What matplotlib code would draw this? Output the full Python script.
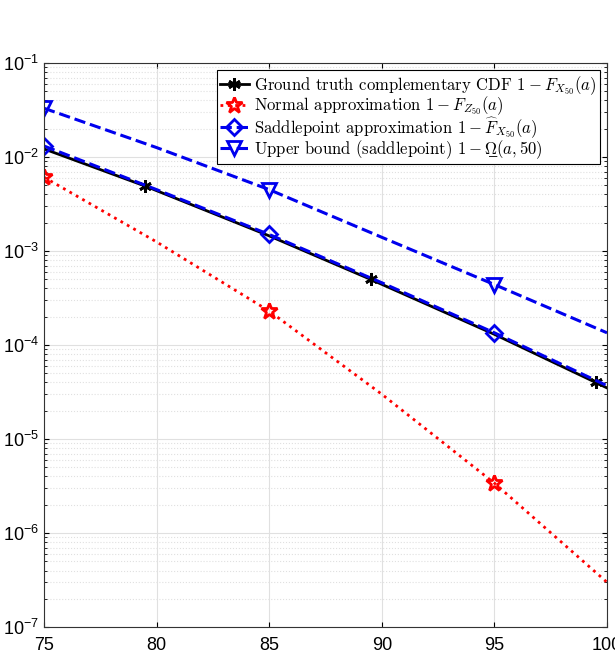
import matplotlib
matplotlib.use("Agg")
import matplotlib.pyplot as plt
from matplotlib.font_manager import FontProperties
from matplotlib.ticker import LogLocator, NullFormatter

plt.rcParams['font.family'] = 'Liberation Sans'
plt.rcParams['mathtext.fontset'] = 'custom'
plt.rcParams['mathtext.rm'] = 'Liberation Sans'
plt.rcParams['mathtext.it'] = 'Liberation Sans:italic'
plt.rcParams['mathtext.bf'] = 'Liberation Sans:bold'

# ground truth (markers at 79.5, 89.5, 99.5)
x_true = [75, 79.5, 85, 89.5, 95, 99.5, 100]
y_true = [1.22e-2, 4.9e-3, 1.45e-3, 5.0e-4, 1.3e-4, 4.0e-5, 3.5e-5]

x_grid = [75, 80, 85, 90, 95, 100]
y_normal = [6.1e-3, 1.25e-3, 2.3e-4, 3.0e-5, 3.4e-6, 3.0e-7]
y_saddle = [1.31e-2, 4.5e-3, 1.5e-3, 4.6e-4, 1.35e-4, 3.7e-5]
y_upper = [3.3e-2, 1.26e-2, 4.5e-3, 1.4e-3, 4.4e-4, 1.35e-4]

labels = [
    r'Ground truth complementary CDF $1-F_{X_{50}}(a)$',
    r'Normal approximation $1-F_{Z_{50}}(a)$',
    r'Saddlepoint approximation $1-\widehat{F}_{X_{50}}(a)$',
    'Upper bound (saddlepoint) $1-\\Omega\u0332(a,50)$',
]

fig = plt.figure(figsize=(6.15, 6.56), dpi=100)
ax = fig.add_axes([0.0715, 0.044, 0.9155, 0.86])

ax.plot(x_true, y_true, '-', color='black', lw=2, marker=(6, 2, 0), ms=9,
        mew=2, markevery=[1, 3, 5], label=labels[0])
ax.plot(x_grid, y_normal, ':', color='red', lw=2, marker='*', ms=12,
        mfc='none', mew=2, markevery=[0, 2, 4], label=labels[1])
ax.plot(x_grid, y_saddle, '--', color='#0000ee', lw=2.2, marker='D', ms=8,
        mfc='none', mew=2, markevery=[0, 2, 4], label=labels[2])
ax.plot(x_grid, y_upper, '--', color='#0000ee', lw=2.2, marker='v', ms=10,
        mfc='none', mew=2, markevery=[0, 2, 4], label=labels[3])

ax.set_yscale('log')
ax.set_xlim(75, 100)
ax.set_ylim(1e-7, 1e-1)
ax.set_xticks([75, 80, 85, 90, 95, 100])
ax.yaxis.set_minor_locator(LogLocator(base=10, subs=range(2, 10), numticks=20))
ax.yaxis.set_minor_formatter(NullFormatter())

ax.grid(True, which='major', color='#e0e0e0', lw=0.8, ls='-')
ax.grid(True, which='minor', axis='y', color='#e0e0e0', lw=0.8, ls=':')
ax.set_axisbelow(True)
ax.tick_params(which='both', direction='in', top=True, right=True, labelsize=13)
ax.tick_params(axis='x', pad=7)
for s in ax.spines.values():
    s.set_color('#333333')

leg_font = FontProperties(family=['cmr10', 'DejaVu Serif'], size=12,
                          math_fontfamily='cm')
leg = ax.legend(loc='upper right', prop=leg_font, fancybox=False, framealpha=1,
                edgecolor='black', borderaxespad=0.45, handlelength=1.7,
                handletextpad=0.3, labelspacing=-0.12, borderpad=0.2)
leg.get_frame().set_linewidth(0.8)

fig.savefig('out.png', dpi=100)
